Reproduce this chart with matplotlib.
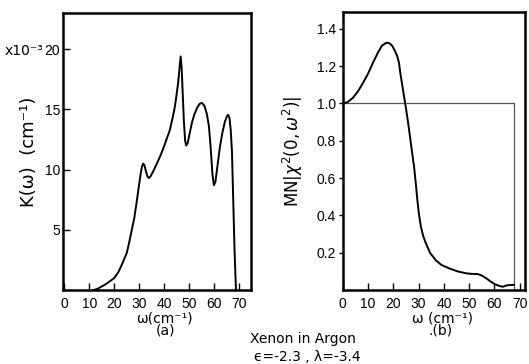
import matplotlib
matplotlib.use("Agg")
import matplotlib.pyplot as plt

# (a) absorption coefficient K(w), in units of 1e-3 cm^-1
w_a = [11.5, 13, 15, 17, 19, 20, 21.5, 23, 24, 25, 26, 27, 28, 29, 29.8, 30.5,
       31.0, 31.5, 32.0, 32.6, 33.2, 33.8, 34.5, 35.5, 37, 38.5, 40, 41, 42.2,
       43.3, 44.0, 44.6, 45.5, 46.0, 46.5, 46.9, 47.3, 47.8, 48.3, 48.7, 49.3,
       50, 51, 52, 53, 54, 55, 56, 57, 57.8, 58.5, 59.2, 59.8, 60.4, 61.2, 62.2,
       63.2, 64.2, 65.0, 65.5, 66.0, 66.5, 67.0, 67.5, 68.0, 68.6]
k_a = [0, 0.08, 0.3, 0.55, 0.85, 1.0, 1.45, 2.1, 2.6, 3.1, 4.0, 5.0, 6.0, 7.4,
       8.6, 9.6, 10.2, 10.5, 10.4, 9.9, 9.45, 9.3, 9.45, 9.85, 10.5, 11.2, 12.0,
       12.6, 13.3, 14.3, 15.0, 15.8, 17.2, 18.3, 19.4, 18.5, 16.5, 14.0, 12.4,
       12.0, 12.2, 12.9, 13.9, 14.6, 15.1, 15.45, 15.55, 15.3, 14.6, 13.6, 11.8,
       9.6, 8.7, 9.0, 10.3, 11.9, 13.1, 14.0, 14.45, 14.55, 14.3, 13.3, 11.5,
       7.5, 3.5, 0]

# (b) MN|chi^2(0,w^2)|
w_b = [0, 2, 4, 6, 8, 10, 12, 14, 15.5, 17.3, 18.5, 19.5, 20.5, 21.5, 22.2,
       22.8, 23.5, 24.2, 24.9, 25.7, 26.6, 27.4, 28.2, 28.9, 29.5, 30.1, 30.9,
       31.8, 32.9, 34.5, 36.8, 39, 42.2, 45.5, 48.8, 51, 53.4, 55, 56.8, 58.5,
       60.1, 62, 63.4, 64.7, 66, 67.6]
chi_b = [1.0, 1.008, 1.03, 1.065, 1.11, 1.16, 1.22, 1.275, 1.31, 1.326, 1.322,
         1.31, 1.285, 1.255, 1.22, 1.16, 1.10, 1.04, 0.983, 0.91, 0.822, 0.74,
         0.661, 0.57, 0.483, 0.41, 0.34, 0.29, 0.25, 0.2, 0.16, 0.135, 0.116,
         0.1, 0.09, 0.087, 0.086, 0.078, 0.063, 0.046, 0.032, 0.022, 0.018,
         0.025, 0.027, 0.028]

# reference step
w_step = [0, 67.6, 67.6]
chi_step = [1.0, 1.0, 0.0]

plt.rcParams['font.family'] = ['DejaVu Sans']
tick_font = 'Liberation Sans'

fig = plt.figure(figsize=(5.29, 3.64), dpi=100)
ax1 = fig.add_axes([0.119, 0.203, 0.355, 0.761])
ax2 = fig.add_axes([0.648, 0.203, 0.344, 0.764])

ax1.plot(w_a, k_a, color='black', lw=1.4)
ax1.set_xlim(-0.5, 74.5)
ax1.set_ylim(0, 23)
ax1.set_xticks(range(0, 71, 10))
ax1.set_yticks([5, 10, 15, 20])
ax1.set_ylabel("K(ω)  (cm⁻¹)", fontsize=13, labelpad=5)
ax1.tick_params(axis='y', direction='in', length=5, width=1.0, pad=2)
ax1.annotate("x10⁻³", xy=(0, 20), xycoords=('axes fraction', 'data'),
             xytext=(-19, -2), textcoords='offset pixels', ha='right', va='center',
             fontsize=10)

ax2.plot(w_step, chi_step, color='#555555', lw=0.9)
ax2.plot(w_b, chi_b, color='black', lw=1.4)
ax2.set_xlim(0, 72)
ax2.set_ylim(0, 1.49)
ax2.set_xticks(range(0, 71, 10))
ax2.set_yticks([0.2, 0.4, 0.6, 0.8, 1.0, 1.2, 1.4])
ax2.set_yticklabels(["0.2", "0.4", "0.6", "0.8", "1.0", "1.2", "1.4"])
ax2.set_ylabel(r"MN$|\chi^2(0,\omega^2)|$", fontsize=12, labelpad=8)
ax2.tick_params(axis='y', direction='out', length=3, width=1.0, pad=2)

for ax in (ax1, ax2):
    for s in ax.spines.values():
        s.set_linewidth(1.8)
    ax.tick_params(axis='x', direction='in', length=5, width=1.0, pad=5)
    for lab in ax.get_xticklabels() + ax.get_yticklabels():
        lab.set_fontfamily(tick_font)
        lab.set_fontsize(10)

fig.text(0.310, 0.126, "ω(cm⁻¹)", ha='center', va='center', fontsize=10)
fig.text(0.312, 0.091, "(a)", ha='center', va='center', fontsize=10)
fig.text(0.836, 0.126, "ω (cm⁻¹)", ha='center', va='center', fontsize=10)
fig.text(0.832, 0.091, ".(b)", ha='center', va='center', fontsize=10)
fig.text(0.573, 0.069, "Xenon in Argon", ha='center', va='center', fontsize=10)
fig.text(0.580, 0.019, "ϵ=-2.3 , λ=-3.4", ha='center', va='center', fontsize=10)

fig.savefig("out.png", dpi=100)
